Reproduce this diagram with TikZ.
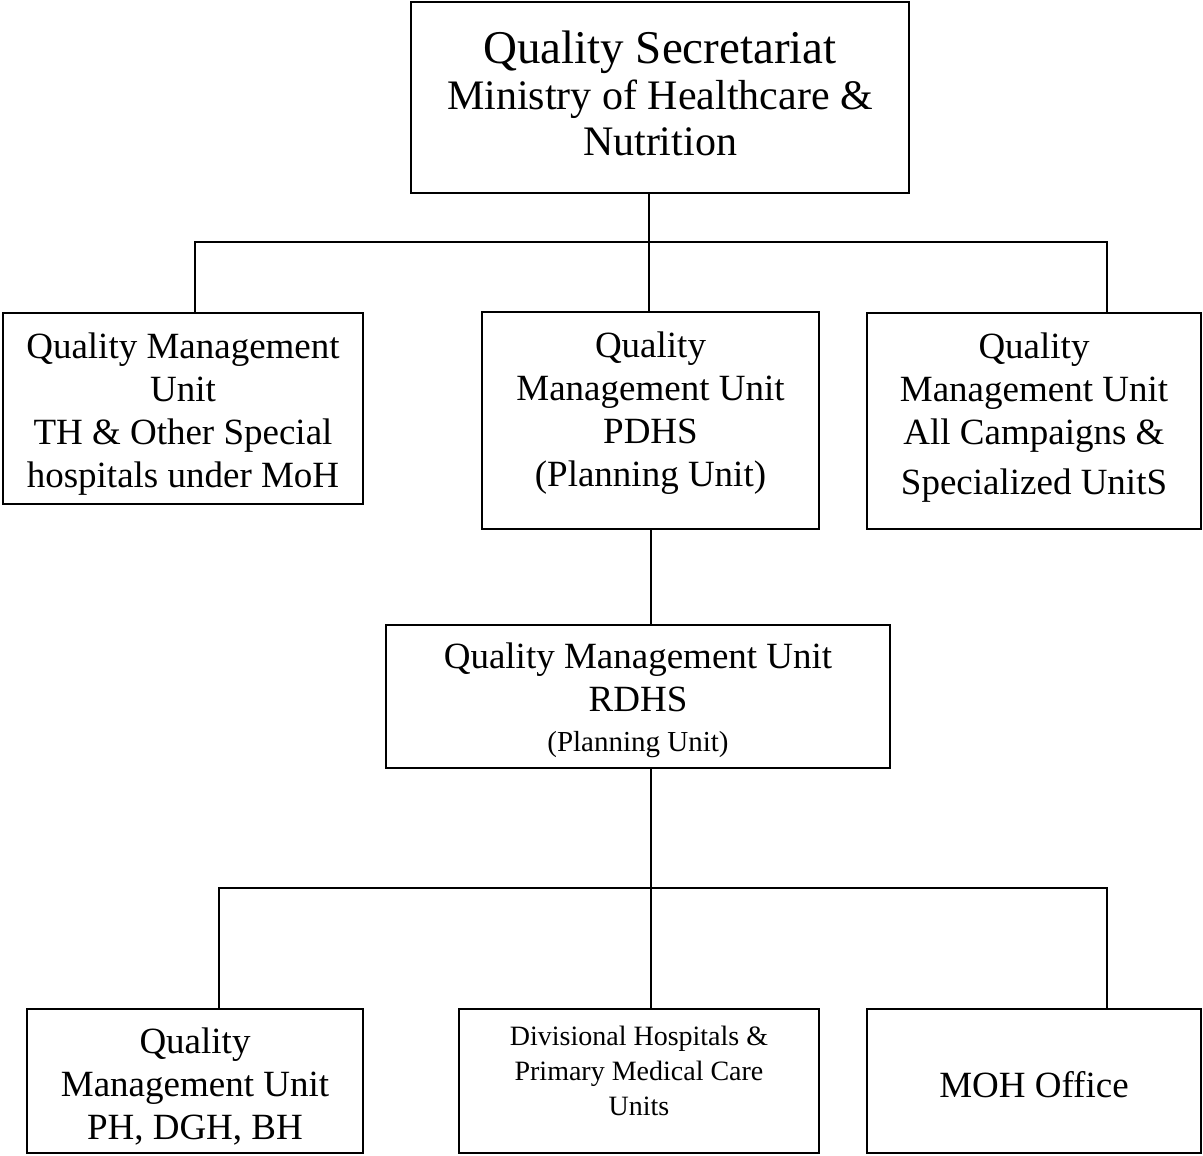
\documentclass[tikz,border=0pt]{standalone}
\usepackage{fontspec}
\setmainfont{Liberation Serif}
\usetikzlibrary{positioning}

\begin{document}
\begin{tikzpicture}[x=1pt, y=-1pt, line width=1.8pt]

  % Stili dei riquadri
  \tikzstyle{unit} = [rectangle, draw=black, fill=none, align=flush center, inner sep=0pt, font=\fontsize{37}{43}\selectfont]
  \tikzstyle{small} = [font=\fontsize{28}{35}\selectfont]

  \useasboundingbox (0,0) rectangle (1203,1156);

  % Riquadri
  \node[unit, text width=498pt, text height=62pt, text depth=129pt, font=\fontsize{42}{46}\selectfont] (qs) at (660,97.5) {{\fontsize{47}{50}\selectfont Quality Secretariat}\\Ministry of Healthcare \&\\Nutrition};
  \node[unit, text width=360pt, text height=45pt, text depth=146pt] (th) at (183,408.5) {Quality Management\\Unit\\TH \& Other Special\\hospitals under MoH};
  \node[unit, text width=337pt, text height=45pt, text depth=172pt] (pdhs) at (650.5,420.5) {Quality\\Management Unit\\PDHS\\(Planning Unit)};
  \node[unit, text width=334pt, text height=45pt, text depth=171pt] (camp) at (1034,421) {Quality\\Management Unit\\All Campaigns \&\\[7pt]Specialized UnitS};
  \node[unit, text width=504pt, text height=43pt, text depth=100pt] (rdhs) at (638,696.5) {Quality Management Unit\\RDHS\\[-3pt]{\fontsize{29}{33}\selectfont (Planning Unit)}};
  \node[unit, text width=336pt, text height=44pt, text depth=100pt] (ph) at (195,1081) {Quality\\Management Unit\\PH, DGH, BH};
  \node[unit, small, text width=360pt, text height=36pt, text depth=108pt] (dh) at (639,1081) {Divisional Hospitals \&\\Primary Medical Care\\Units};
  \node[unit, text width=334pt, text height=88pt, text depth=56pt] (moh) at (1034,1081) {MOH Office};

  % Punti delle linee
  \coordinate (tl) at (195,242);
  \coordinate (tm) at (649,242);
  \coordinate (tr) at (1107,242);
  \coordinate (bl) at (219,888);
  \coordinate (bm) at (651,888);
  \coordinate (br) at (1107,888);

  % Collegamenti
  \draw (qs.south -| tm) -- (tm);
  \draw (th.north -| tl) -- (tl) -- (tr) -- (camp.north -| tr);
  \draw (tm) -- (pdhs.north -| tm);
  \draw (pdhs.south -| bm) -- (rdhs.north -| bm);
  \draw (rdhs.south -| bm) -- (bm);
  \draw (ph.north -| bl) -- (bl) -- (br) -- (moh.north -| br);
  \draw (bm) -- (dh.north -| bm);

\end{tikzpicture}
\end{document}
